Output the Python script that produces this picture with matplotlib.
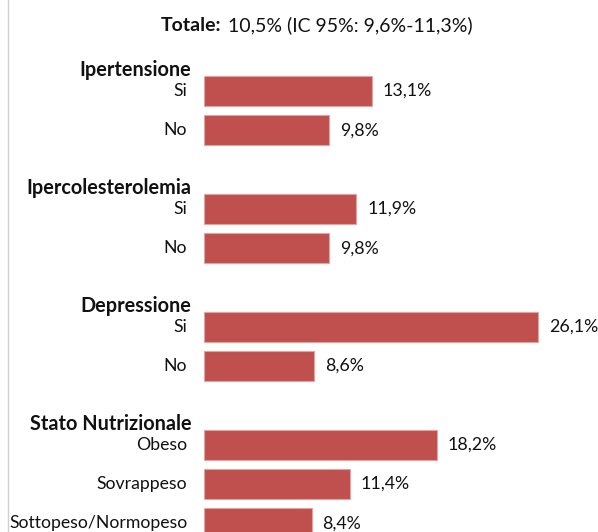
import matplotlib.pyplot as plt
from matplotlib.lines import Line2D

plt.rcParams['font.family'] = ['Lato', 'DejaVu Sans']

# ----- DATA -----
groups = ["Ipertensione", "Ipercolesterolemia", "Depressione", "Stato Nutrizionale"]
group_cats = [
    ["Si", "No"],
    ["Si", "No"],
    ["Si", "No"],
    ["Obeso", "Sovrappeso", "Sottopeso/Normopeso"],
]
group_vals = [
    [13.1, 9.8],
    [11.9, 9.8],
    [26.1, 8.6],
    [18.2, 11.4, 8.4],
]
title_bold = "Totale:"
title_rest = "10,5% (IC 95%: 9,6%-11,3%)"

bar_color = "#C0504D"
text_color = "#111111"

W, H = 598, 532
fig = plt.figure(figsize=(W / 100, H / 100), dpi=100)

# axes: x starts where the bars start, y runs off the bottom edge
x0_px, top_px = 204, 50
px_per_pct = 12.8
row_px = 39.3
ax = fig.add_axes([x0_px / W, 0, (W - x0_px) / W, (H - top_px) / H])
ax.set_xlim(0, (W - x0_px) / px_per_pct)
ax.set_ylim((H - 91) / row_px, (top_px - 91) / row_px)
ax.axis("off")

row = 0
for g, cats, vals in zip(groups, group_cats, group_vals):
    ax.text(-1.0, row - 0.53, g, ha="right", va="center", fontsize=14.3,
            fontweight="bold", color=text_color)
    for c, v in zip(cats, vals):
        ax.barh(row, v, height=0.76, color=bar_color, edgecolor="#E3A3A1",
                linewidth=0.8)
        ax.text(-1.3, row, c, ha="right", va="center", fontsize=12.7,
                color=text_color)
        ax.text(v + 0.85, row, f"{v:.1f}%".replace(".", ","), ha="left",
                va="center", fontsize=12.8, color=text_color)
        row += 1
    row += 1

# title: bold lead-in followed by normal text, on a shared baseline
fig.text(221 / W, 1 - 31 / H, title_bold, ha="right", va="baseline",
         fontsize=14, fontweight="bold", color=text_color)
fig.text(228 / W, 1 - 31 / H, title_rest, ha="left", va="baseline",
         fontsize=14, color=text_color)

# thin frame line on the left
fig.add_artist(Line2D([8 / W, 8 / W], [0, 1], transform=fig.transFigure,
                      color="#D0D0D0", linewidth=1))

fig.savefig("out.png", dpi=100)
